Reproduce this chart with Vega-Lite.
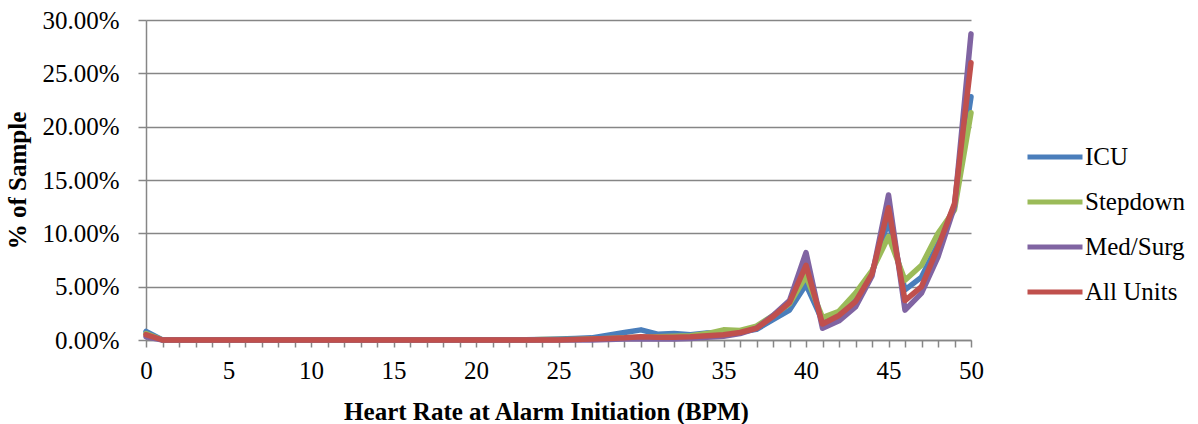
{
  "$schema": "https://vega.github.io/schema/vega-lite/v6.json",
  "autosize": {"type": "none"},
  "padding": {"left": 146, "top": 20, "right": 227, "bottom": 84},
  "width": 825,
  "height": 320,
  "background": "white",
  "config": {
    "font": "Liberation Serif",
    "view": {"stroke": null},
    "legend": {"labelFont": "Liberation Serif"},
    "style": {"guide-label": {"font": "Liberation Serif"}, "guide-title": {"font": "Liberation Serif"}}
  },
  "data": {
    "values": [
      {"bpm": 0, "ICU": 0.8, "Stepdown": 0.6, "Med/Surg": 0.3, "All Units": 0.5},
      {"bpm": 1, "ICU": 0, "Stepdown": 0, "Med/Surg": 0, "All Units": 0},
      {"bpm": 2, "ICU": 0, "Stepdown": 0, "Med/Surg": 0, "All Units": 0},
      {"bpm": 3, "ICU": 0, "Stepdown": 0, "Med/Surg": 0, "All Units": 0},
      {"bpm": 4, "ICU": 0, "Stepdown": 0, "Med/Surg": 0, "All Units": 0},
      {"bpm": 5, "ICU": 0, "Stepdown": 0, "Med/Surg": 0, "All Units": 0},
      {"bpm": 6, "ICU": 0, "Stepdown": 0, "Med/Surg": 0, "All Units": 0},
      {"bpm": 7, "ICU": 0, "Stepdown": 0, "Med/Surg": 0, "All Units": 0},
      {"bpm": 8, "ICU": 0, "Stepdown": 0, "Med/Surg": 0, "All Units": 0},
      {"bpm": 9, "ICU": 0, "Stepdown": 0, "Med/Surg": 0, "All Units": 0},
      {"bpm": 10, "ICU": 0, "Stepdown": 0, "Med/Surg": 0, "All Units": 0},
      {"bpm": 11, "ICU": 0, "Stepdown": 0, "Med/Surg": 0, "All Units": 0},
      {"bpm": 12, "ICU": 0, "Stepdown": 0, "Med/Surg": 0, "All Units": 0},
      {"bpm": 13, "ICU": 0, "Stepdown": 0, "Med/Surg": 0, "All Units": 0},
      {"bpm": 14, "ICU": 0, "Stepdown": 0, "Med/Surg": 0, "All Units": 0},
      {"bpm": 15, "ICU": 0, "Stepdown": 0, "Med/Surg": 0, "All Units": 0},
      {"bpm": 16, "ICU": 0, "Stepdown": 0, "Med/Surg": 0, "All Units": 0},
      {"bpm": 17, "ICU": 0, "Stepdown": 0, "Med/Surg": 0, "All Units": 0},
      {"bpm": 18, "ICU": 0, "Stepdown": 0, "Med/Surg": 0, "All Units": 0},
      {"bpm": 19, "ICU": 0, "Stepdown": 0, "Med/Surg": 0, "All Units": 0},
      {"bpm": 20, "ICU": 0, "Stepdown": 0, "Med/Surg": 0, "All Units": 0},
      {"bpm": 21, "ICU": 0, "Stepdown": 0, "Med/Surg": 0, "All Units": 0},
      {"bpm": 22, "ICU": 0, "Stepdown": 0, "Med/Surg": 0, "All Units": 0},
      {"bpm": 23, "ICU": 0.02, "Stepdown": 0, "Med/Surg": 0, "All Units": 0},
      {"bpm": 24, "ICU": 0.05, "Stepdown": 0.05, "Med/Surg": 0, "All Units": 0},
      {"bpm": 25, "ICU": 0.1, "Stepdown": 0.05, "Med/Surg": 0, "All Units": 0},
      {"bpm": 26, "ICU": 0.15, "Stepdown": 0.05, "Med/Surg": 0, "All Units": 0.05},
      {"bpm": 27, "ICU": 0.2, "Stepdown": 0.1, "Med/Surg": 0, "All Units": 0.1},
      {"bpm": 28, "ICU": 0.45, "Stepdown": 0.15, "Med/Surg": 0.05, "All Units": 0.15},
      {"bpm": 29, "ICU": 0.7, "Stepdown": 0.2, "Med/Surg": 0.1, "All Units": 0.2},
      {"bpm": 30, "ICU": 0.95, "Stepdown": 0.25, "Med/Surg": 0.1, "All Units": 0.3},
      {"bpm": 31, "ICU": 0.55, "Stepdown": 0.3, "Med/Surg": 0.1, "All Units": 0.25},
      {"bpm": 32, "ICU": 0.6, "Stepdown": 0.35, "Med/Surg": 0.1, "All Units": 0.25},
      {"bpm": 33, "ICU": 0.5, "Stepdown": 0.4, "Med/Surg": 0.15, "All Units": 0.3},
      {"bpm": 34, "ICU": 0.65, "Stepdown": 0.6, "Med/Surg": 0.25, "All Units": 0.4},
      {"bpm": 35, "ICU": 0.7, "Stepdown": 0.95, "Med/Surg": 0.35, "All Units": 0.5},
      {"bpm": 36, "ICU": 0.75, "Stepdown": 0.9, "Med/Surg": 0.6, "All Units": 0.7},
      {"bpm": 37, "ICU": 1.0, "Stepdown": 1.3, "Med/Surg": 1.1, "All Units": 1.1},
      {"bpm": 38, "ICU": 1.9, "Stepdown": 2.3, "Med/Surg": 2.3, "All Units": 2.2},
      {"bpm": 39, "ICU": 2.8, "Stepdown": 3.4, "Med/Surg": 3.7, "All Units": 3.5},
      {"bpm": 40, "ICU": 5.2, "Stepdown": 6.0, "Med/Surg": 8.2, "All Units": 7.0},
      {"bpm": 41, "ICU": 1.8, "Stepdown": 2.1, "Med/Surg": 1.1, "All Units": 1.5},
      {"bpm": 42, "ICU": 2.6, "Stepdown": 2.7, "Med/Surg": 1.8, "All Units": 2.3},
      {"bpm": 43, "ICU": 4.0, "Stepdown": 4.4, "Med/Surg": 3.1, "All Units": 3.6},
      {"bpm": 44, "ICU": 6.3, "Stepdown": 6.5, "Med/Surg": 6.0, "All Units": 6.2},
      {"bpm": 45, "ICU": 11.2, "Stepdown": 9.7, "Med/Surg": 13.6, "All Units": 12.4},
      {"bpm": 46, "ICU": 4.7, "Stepdown": 5.6, "Med/Surg": 2.8, "All Units": 3.7},
      {"bpm": 47, "ICU": 5.9, "Stepdown": 7.0, "Med/Surg": 4.4, "All Units": 5.0},
      {"bpm": 48, "ICU": 9.0, "Stepdown": 10.0, "Med/Surg": 7.8, "All Units": 8.7},
      {"bpm": 49, "ICU": 12.6, "Stepdown": 12.2, "Med/Surg": 12.5, "All Units": 12.8},
      {"bpm": 50, "ICU": 22.8, "Stepdown": 21.3, "Med/Surg": 28.7, "All Units": 26.0}
    ]
  },
  "transform": [
    {"fold": ["ICU", "Stepdown", "Med/Surg", "All Units"], "as": ["unit", "pct"]}
  ],
  "mark": {"type": "line", "strokeWidth": 5.5, "strokeJoin": "round", "strokeCap": "round"},
  "encoding": {
    "x": {
      "field": "bpm",
      "type": "quantitative",
      "scale": {"domain": [0, 50], "nice": false, "zero": false},
      "axis": {
        "title": "Heart Rate at Alarm Initiation (BPM)",
        "titleFont": "Liberation Serif",
        "titleFontSize": 25,
        "titleFontWeight": "bold",
        "titleColor": "black",
        "titlePadding": 16,
        "titleX": 400,
        "titleAlign": "center",
        "values": [0,1,2,3,4,5,6,7,8,9,10,11,12,13,14,15,16,17,18,19,20,21,22,23,24,25,26,27,28,29,30,31,32,33,34,35,36,37,38,39,40,41,42,43,44,45,46,47,48,49,50],
        "labelExpr": "datum.value % 5 === 0 ? datum.value : ''",
        "labelFont": "Liberation Serif",
        "labelFontSize": 25,
        "labelColor": "black",
        "labelPadding": 11,
        "labelFlush": false,
        "labelOverlap": false,
        "grid": false,
        "domainColor": "#868686",
        "domainWidth": 1.5,
        "tickColor": "#868686",
        "tickWidth": 1.5,
        "tickSize": 7
      }
    },
    "y": {
      "field": "pct",
      "type": "quantitative",
      "scale": {"domain": [0, 30], "nice": false},
      "axis": {
        "title": "% of Sample",
        "titleFont": "Liberation Serif",
        "titleFontSize": 25,
        "titleFontWeight": "bold",
        "titleColor": "black",
        "titlePadding": 11,
        "values": [0, 5, 10, 15, 20, 25, 30],
        "labelExpr": "format(datum.value, '.2f') + '%'",
        "labelFont": "Liberation Serif",
        "labelFontSize": 25,
        "labelColor": "black",
        "labelPadding": 19,
        "grid": true,
        "gridColor": "#868686",
        "gridWidth": 1.5,
        "domainColor": "#868686",
        "domainWidth": 1.5,
        "tickColor": "#868686",
        "tickWidth": 1.5,
        "tickSize": 8
      }
    },
    "color": {
      "field": "unit",
      "type": "nominal",
      "scale": {
        "domain": ["ICU", "Stepdown", "Med/Surg", "All Units"],
        "range": ["#4A7EBB", "#9BBB59", "#8064A2", "#C0504D"]
      },
      "legend": {
        "title": null,
        "orient": "none",
        "legendX": 879,
        "legendY": 107,
        "symbolType": "stroke",
        "symbolSize": 3025,
        "symbolStrokeWidth": 5,
        "labelFont": "Liberation Serif",
        "labelFontSize": 25,
        "labelColor": "black",
        "labelOffset": 0,
        "rowPadding": 2,
        "labelLimit": 300,
        "encode": {
          "labels": {"update": {"font": {"value": "Liberation Serif"}}}
        }
      }
    }
  }
}
